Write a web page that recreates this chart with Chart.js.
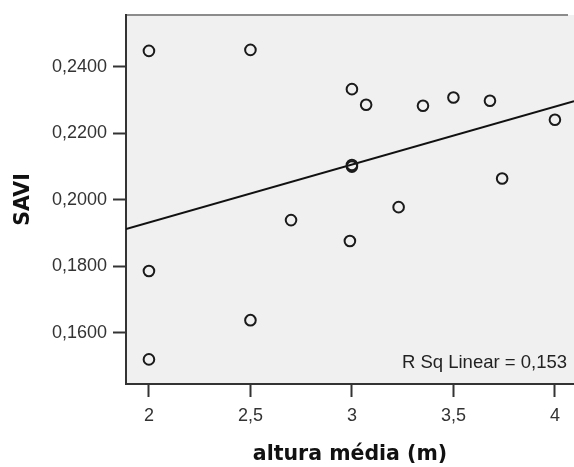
<!DOCTYPE html>
<html lang="pt">
<head>
  <meta charset="UTF-8">
  <title>SAVI x altura média</title>
  <script src="https://cdn.jsdelivr.net/npm/chart.js"></script>
  <style>
    html, body { margin: 0; padding: 0; background: #fff; overflow: hidden; }
    canvas { display: block; }
  </style>
</head>
<body>
  <canvas id="chart" width="574" height="467"></canvas>

  <script>
    const alturaMedia = [2, 2.5, 2, 2, 2.5, 2.7, 3, 3.07, 3.35, 3.5, 3.68, 4, 3, 3, 3.74, 3.23, 2.99];
    const savi = [0.2448, 0.2451, 0.1786, 0.1520, 0.1638, 0.1939, 0.2333, 0.2286, 0.2283, 0.2308, 0.2298, 0.2241, 0.2100, 0.2105, 0.2064, 0.1978, 0.1876];

    // linear fit line, endpoints at the plot edges
    const fitX = [1.887, 4.094];
    const fitY = [0.1912, 0.2297];

    const xTicks = [2, 2.5, 3, 3.5, 4];
    const yTicks = [0.16, 0.18, 0.20, 0.22, 0.24];
    const rSqText = 'R Sq Linear = 0,153';

    const comma = v => String(v).replace('.', ',');

    const plotBox = {
      id: 'plotBox',
      beforeDraw(chart) {
        const { ctx, chartArea: a } = chart;
        ctx.save();
        ctx.fillStyle = '#f0f0f0';
        ctx.fillRect(a.left, a.top, a.right - a.left, a.bottom - a.top);
        ctx.strokeStyle = '#8c8c8c';
        ctx.lineWidth = 2;
        ctx.beginPath();
        ctx.moveTo(a.left, a.top);
        ctx.lineTo(a.right - 6, a.top);
        ctx.stroke();
        ctx.restore();
      },
      afterDraw(chart) {
        const { ctx, chartArea: a } = chart;
        ctx.save();
        ctx.font = '18.5px "Liberation Sans", Arial, sans-serif';
        ctx.fillStyle = '#222';
        ctx.textAlign = 'right';
        ctx.textBaseline = 'alphabetic';
        ctx.fillText(rSqText, a.right - 7, a.bottom - 16);
        ctx.restore();
      }
    };

    new Chart(document.getElementById('chart'), {
      type: 'scatter',
      data: {
        datasets: [
          {
            label: 'SAVI',
            data: alturaMedia.map((x, i) => ({ x, y: savi[i] })),
            pointStyle: 'circle',
            pointRadius: 5.3,
            pointBorderWidth: 2,
            pointBorderColor: '#1a1a1a',
            pointBackgroundColor: 'rgba(0,0,0,0)',
            order: 1
          },
          {
            type: 'line',
            label: 'fit',
            data: fitX.map((x, i) => ({ x, y: fitY[i] })),
            borderColor: '#111',
            borderWidth: 2,
            pointRadius: 0,
            fill: false,
            order: 2
          }
        ]
      },
      options: {
        responsive: false,
        animation: false,
        layout: { autoPadding: false, padding: { top: 15, right: 0, left: 0, bottom: 0 } },
        plugins: {
          legend: { display: false },
          tooltip: { enabled: false }
        },
        scales: {
          x: {
            type: 'linear',
            min: 1.887,
            max: 4.094,
            afterFit: s => { s.height = 83; s.paddingLeft = 0; s.paddingRight = 0; },
            afterBuildTicks: s => { s.ticks = xTicks.map(v => ({ value: v })); },
            grid: { drawOnChartArea: false, tickLength: 13, tickWidth: 2, tickColor: '#333' },
            border: { color: '#333', width: 2 },
            ticks: {
              padding: 8,
              color: '#333',
              font: { family: '"Liberation Sans", Arial, sans-serif', size: 18 },
              maxRotation: 0,
              callback: v => comma(v)
            },
            title: {
              display: true,
              text: 'altura média (m)',
              color: '#111',
              padding: 0,
              font: { family: '"DejaVu Sans", Verdana, sans-serif', size: 20.5, weight: 'bold' }
            }
          },
          y: {
            type: 'linear',
            min: 0.1446,
            max: 0.2556,
            afterFit: s => { s.width = 126; s.paddingTop = 0; s.paddingBottom = 0; },
            afterBuildTicks: s => { s.ticks = yTicks.map(v => ({ value: v })); },
            grid: { drawOnChartArea: false, tickLength: 13, tickWidth: 2, tickColor: '#333' },
            border: { color: '#333', width: 2 },
            ticks: {
              padding: 6,
              color: '#333',
              font: { family: '"Liberation Sans", Arial, sans-serif', size: 18 },
              callback: v => comma(v.toFixed(4))
            },
            title: {
              display: true,
              text: 'SAVI',
              color: '#111',
              padding: 11,
              font: { family: '"DejaVu Sans", Verdana, sans-serif', size: 20.5, weight: 'bold' }
            }
          }
        }
      },
      plugins: [plotBox]
    });
  </script>
</body>
</html>
